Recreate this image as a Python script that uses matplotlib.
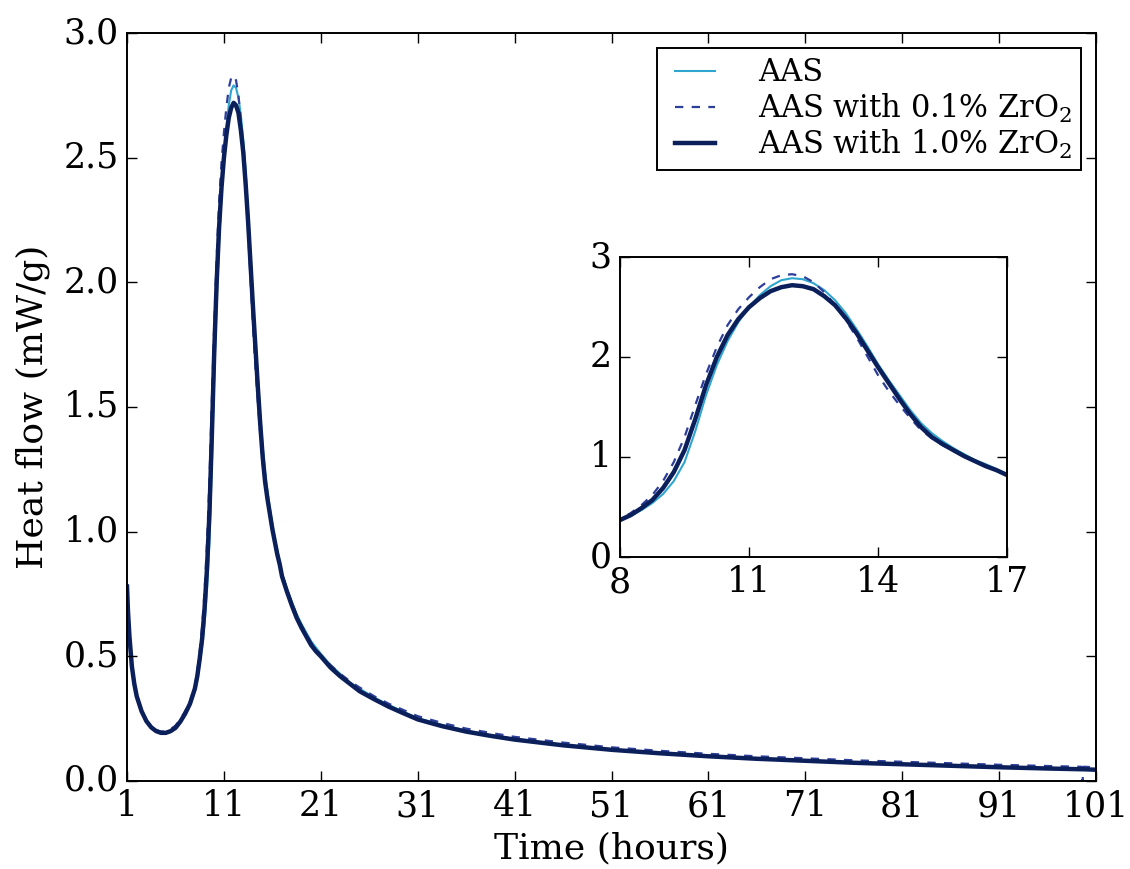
import matplotlib
matplotlib.use("Agg")
from matplotlib import pyplot as plt

# time (hours)
t = [1, 1.1, 1.25, 1.5, 1.75, 2, 2.5, 3, 3.5, 4, 4.5, 5, 5.5, 6, 6.5, 7, 7.5,
     8, 8.25, 8.5, 8.75, 9, 9.25, 9.5, 9.75, 10, 10.25, 10.5, 10.75,
     11, 11.25, 11.5, 11.75, 12, 12.25, 12.5, 12.75, 13, 13.25, 13.5, 13.75,
     14, 14.25, 14.5, 14.75, 15, 15.25, 15.5, 15.75, 16, 16.25, 16.5, 16.75,
     17, 17.5, 18, 18.5, 19, 19.5, 20, 20.5, 21, 22, 23, 24, 25, 26.5, 28, 29.5,
     31, 33.5, 36, 38.5, 41, 46, 51, 56, 61, 66, 71, 76, 81, 86, 91, 96,
     99.5, 99.6, 99.7, 101]

aas = [0.78, 0.68, 0.58, 0.46, 0.39, 0.34, 0.28, 0.24, 0.215, 0.20, 0.193, 0.193, 0.20, 0.213, 0.238, 0.27, 0.31,
       0.37, 0.41, 0.47, 0.54, 0.63, 0.76, 0.95, 1.26, 1.62, 1.92, 2.16, 2.35,
       2.50, 2.62, 2.71, 2.77, 2.79, 2.78, 2.74, 2.67, 2.57, 2.44, 2.28, 2.11,
       1.93, 1.77, 1.62, 1.47, 1.34, 1.24, 1.16, 1.09, 1.03, 0.97, 0.93, 0.88,
       0.83, 0.77, 0.72, 0.67, 0.63, 0.595, 0.56, 0.535, 0.51, 0.465, 0.43, 0.395, 0.37, 0.335, 0.305, 0.278,
       0.252, 0.225, 0.202, 0.184, 0.169, 0.145, 0.126, 0.112, 0.100, 0.090, 0.082, 0.074, 0.068, 0.062, 0.056, 0.051,
       0.048, 0.048, 0.048, 0.046]

zr01 = [0.78, 0.68, 0.58, 0.46, 0.39, 0.34, 0.28, 0.24, 0.218, 0.205, 0.198, 0.20, 0.208, 0.222, 0.248, 0.28, 0.32,
        0.38, 0.44, 0.52, 0.62, 0.76, 0.95, 1.20, 1.52, 1.83, 2.10, 2.32, 2.48,
        2.60, 2.70, 2.78, 2.82, 2.83, 2.81, 2.75, 2.65, 2.52, 2.37, 2.20, 2.01,
        1.82, 1.66, 1.52, 1.39, 1.27, 1.19, 1.12, 1.06, 1.01, 0.96, 0.92, 0.87,
        0.83, 0.77, 0.715, 0.665, 0.625, 0.59, 0.555, 0.53, 0.505, 0.465, 0.43, 0.40, 0.375, 0.34, 0.31, 0.285,
        0.26, 0.233, 0.21, 0.193, 0.177, 0.154, 0.135, 0.121, 0.109, 0.099, 0.091, 0.083, 0.077, 0.071, 0.065, 0.060,
        0.057, -0.005, 0.057, 0.055]

zr10 = [0.78, 0.68, 0.58, 0.46, 0.39, 0.34, 0.28, 0.24, 0.215, 0.20, 0.193, 0.193, 0.20, 0.213, 0.238, 0.27, 0.31,
        0.37, 0.42, 0.49, 0.57, 0.69, 0.85, 1.07, 1.38, 1.72, 2.00, 2.22, 2.38,
        2.50, 2.59, 2.66, 2.70, 2.72, 2.71, 2.68, 2.61, 2.52, 2.39, 2.24, 2.07,
        1.90, 1.74, 1.58, 1.43, 1.30, 1.20, 1.13, 1.07, 1.01, 0.96, 0.91, 0.87,
        0.82, 0.76, 0.705, 0.655, 0.615, 0.58, 0.545, 0.52, 0.50, 0.455, 0.42, 0.39, 0.36, 0.328, 0.298, 0.272,
        0.247, 0.22, 0.198, 0.181, 0.166, 0.143, 0.125, 0.111, 0.099, 0.089, 0.081, 0.073, 0.067, 0.061, 0.055, 0.050,
        0.047, 0.047, 0.047, 0.045]

labels = ["AAS", "AAS with 0.1% ZrO$_2$", "AAS with 1.0% ZrO$_2$"]
colors = ["#2fa6cf", "#2d3e9a", "#0b1f5b"]

plt.style.use("classic")
plt.rcParams["font.family"] = "DejaVu Serif"
plt.rcParams["mathtext.fontset"] = "dejavuserif"
plt.rcParams["font.size"] = 26

fig = plt.figure(figsize=(11.3, 8.69), dpi=100)
fig.patch.set_facecolor("white")
ax = fig.add_axes([0.1124, 0.1013, 0.8576, 0.8607])

def draw(a):
    a.plot(t, aas, color=colors[0], lw=1.5, label=labels[0])
    a.plot(t, zr01, color=colors[1], lw=1.6, ls="--", label=labels[1])
    a.plot(t, zr10, color=colors[2], lw=3.2, label=labels[2])

draw(ax)
ax.set_xlim(1, 101)
ax.set_ylim(0, 3)
ax.set_xticks(range(1, 102, 10))
ax.set_yticks([0, 0.5, 1.0, 1.5, 2.0, 2.5, 3.0])
ax.set_yticklabels(["0.0", "0.5", "1.0", "1.5", "2.0", "2.5", "3.0"])
ax.set_xlabel("Time (hours)", fontsize=26, labelpad=6)
ax.set_ylabel("Heat flow (mW/g)", fontsize=26, labelpad=10)
ax.tick_params(labelsize=25, length=7, width=1, pad=6)
for s in ax.spines.values():
    s.set_linewidth(1.4)
leg = ax.legend(loc="upper right", fontsize=22, handlelength=1.9, borderpad=0.3,
                labelspacing=0.1, handletextpad=1.1, borderaxespad=0.5,
                frameon=True, fancybox=False)
leg.get_frame().set_linewidth(1.4)
leg.get_frame().set_edgecolor("black")

ins = fig.add_axes([0.5487, 0.359, 0.3425, 0.345])
draw(ins)
ins.set_xlim(8, 17)
ins.set_ylim(0, 3)
ins.set_xticks([8, 11, 14, 17])
ins.set_yticks([0, 1, 2, 3])
ins.tick_params(labelsize=25, length=7, width=1, pad=6)
for s in ins.spines.values():
    s.set_linewidth(1.4)

fig.savefig("out.png", dpi=100, facecolor="white")
